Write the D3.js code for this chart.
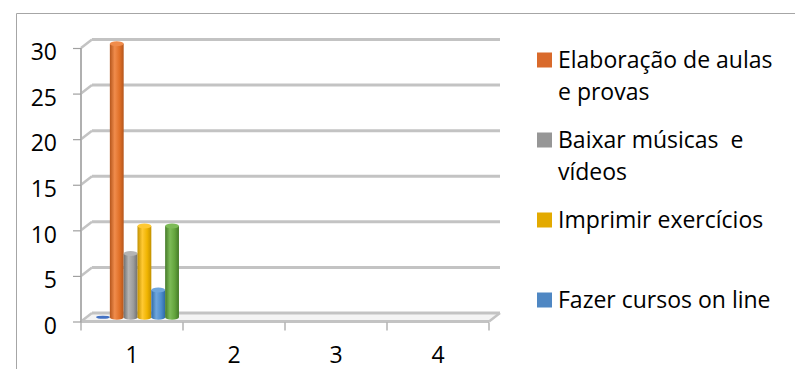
<!DOCTYPE html>
<html>
<head>
<meta charset="utf-8">
<script src="https://cdn.jsdelivr.net/npm/d3@7"></script>
<style>
  html, body { margin: 0; padding: 0; background: #fff; }
  svg { display: block; }
  text { font-family: "Open Sans", "Noto Sans", sans-serif; fill: #000; }
</style>
</head>
<body>
<svg id="chart" width="795" height="369"></svg>
<script>
// ---- data ----
const categories = ["1", "2", "3", "4"];
const seriesKeys = ["s1", "s2", "s3", "s4", "s5", "s6"];
const s1Values = [0, null, null, null];
const s2Values = [30, null, null, null];
const s3Values = [7, null, null, null];
const s4Values = [10, null, null, null];
const s5Values = [3, null, null, null];
const s6Values = [10, null, null, null];
const yTickValues = [0, 5, 10, 15, 20, 25, 30];
const legendLabels = [["Elaboração de aulas", "e provas"], ["Baixar músicas  e", "vídeos"], ["Imprimir exercícios"], ["Fazer cursos on line"]];
const legendKeys = ["s2", "s3", "s4", "s5"];

// ---- styles ----
const colors = {
  s1: ["#2f5597", "#4472c4", "#5b86d0"],
  s2: ["#b5561c", "#e07028", "#f08c4c"],
  s3: ["#707070", "#9c9c9c", "#b4b4b4"],
  s4: ["#c29100", "#f0b400", "#ffc933"],
  s5: ["#2e6aa6", "#4f8fcf", "#6fa6dc"],
  s6: ["#457a28", "#63a43c", "#7dbb57"]
};
const swatch = { s2: "#d96a2b", s3: "#969696", s4: "#e3aa00", s5: "#4f87c3" };

const values = { s1: s1Values, s2: s2Values, s3: s3Values, s4: s4Values, s5: s5Values, s6: s6Values };

const svg = d3.select("#chart");
const gridColor = "#c3c3c3";
const DX = 11, DY = -8.5;

const y = d3.scaleLinear().domain([0, 30]).range([321.5, 48]);
const x = d3.scaleBand().domain(categories).range([81, 489]).padding(0);
const xs = d3.scaleBand().domain(seriesKeys).range([0, x.bandwidth()]).paddingInner(0).paddingOuter(0.69);

// frame
svg.append("line").attr("x1", 16.5).attr("x2", 795).attr("y1", 13.5).attr("y2", 13.5).attr("stroke", "#a6a6a6").attr("stroke-width", 1);
svg.append("line").attr("x1", 16.5).attr("x2", 16.5).attr("y1", 13.5).attr("y2", 369).attr("stroke", "#a6a6a6").attr("stroke-width", 1);

// floor plate
const x0 = x.range()[0], x1 = x.range()[1];
svg.append("path")
  .attr("d", `M${x0},${y(0)} L${x1},${y(0)} L${x1 + DX},${y(0) + DY} L${x0 + DX},${y(0) + DY} Z`)
  .attr("fill", "#f4f4f4");

// gridlines (back wall) and left-wall diagonals
const grid = svg.append("g");
yTickValues.forEach(v => {
  grid.append("line")
    .attr("x1", x0 + DX).attr("x2", x1 + DX)
    .attr("y1", y(v) + DY).attr("y2", y(v) + DY)
    .attr("stroke", gridColor).attr("stroke-width", 3);
  grid.append("line")
    .attr("x1", x0).attr("x2", x0 + DX)
    .attr("y1", y(v)).attr("y2", y(v) + DY)
    .attr("stroke", gridColor).attr("stroke-width", 2.5);
});
// floor front edge and right edge
svg.append("line").attr("x1", x0).attr("x2", x1).attr("y1", y(0)).attr("y2", y(0)).attr("stroke", gridColor).attr("stroke-width", 3);
svg.append("line").attr("x1", x1).attr("x2", x1 + DX).attr("y1", y(0)).attr("y2", y(0) + DY).attr("stroke", gridColor).attr("stroke-width", 2.5);
// y axis line
svg.append("line").attr("x1", x0).attr("x2", x0).attr("y1", y(30)).attr("y2", y(0) + 1).attr("stroke", "#b0b0b0").attr("stroke-width", 2);

// y axis ticks + labels
const yAxis = svg.append("g").attr("transform", `translate(${x0},0)`)
  .call(d3.axisLeft(y).tickValues(yTickValues).tickSize(8).tickPadding(16).tickFormat(d3.format("d")));
yAxis.select(".domain").remove();
yAxis.selectAll(".tick line").attr("stroke", "#a0a0a0").attr("stroke-width", 1.2);
yAxis.selectAll(".tick text").attr("dy", "0.38em").attr("y", 3).style("font-size", "23px").style("font-family", "'Open Sans', sans-serif");

// x axis labels
const xAxis = svg.append("g").attr("transform", `translate(0,${y(0)})`)
  .call(d3.axisBottom(x).tickSize(0).tickPadding(25));
xAxis.select(".domain").remove();
xAxis.selectAll(".tick text").style("font-size", "23px").style("font-family", "'Open Sans', sans-serif");
// x boundary ticks
const bounds = categories.map(c => x(c)).concat([x1]);
svg.append("g").selectAll("line").data(bounds).join("line")
  .attr("x1", d => d).attr("x2", d => d)
  .attr("y1", y(0) + 1).attr("y2", y(0) + 9)
  .attr("stroke", "#a0a0a0").attr("stroke-width", 1.2);

// gradients
const defs = svg.append("defs");
seriesKeys.forEach(k => {
  const g = defs.append("linearGradient").attr("id", "g_" + k).attr("x1", 0).attr("x2", 1).attr("y1", 0).attr("y2", 0);
  g.append("stop").attr("offset", "0%").attr("stop-color", colors[k][0]);
  g.append("stop").attr("offset", "35%").attr("stop-color", colors[k][2]);
  g.append("stop").attr("offset", "70%").attr("stop-color", colors[k][1]);
  g.append("stop").attr("offset", "100%").attr("stop-color", colors[k][0]);
});

// bars (cylinders)
const bars = svg.append("g");
const ry = 2.5;
categories.forEach((c, ci) => {
  seriesKeys.forEach(k => {
    const v = values[k][ci];
    if (v === null || v === undefined) return;
    const bx = x(c) + xs(k) + DX / 2;
    const w = xs.bandwidth();
    const yb = y(0) + DY / 2;
    const yt = y(v) + DY / 2;
    const g = bars.append("g");
    if (v > 0) {
      g.append("path")
        .attr("d", `M${bx},${yt} L${bx},${yb} A${w / 2},${ry} 0 0 0 ${bx + w},${yb} L${bx + w},${yt} Z`)
        .attr("fill", `url(#g_${k})`);
    }
    g.append("ellipse")
      .attr("cx", bx + w / 2).attr("cy", yt)
      .attr("rx", w / 2).attr("ry", v > 0 ? ry : 1.6)
      .attr("fill", colors[k][v > 0 ? 2 : 1]);
  });
});

// legend
const legend = svg.append("g");
const legendY = [60, 140, 220, 300];
legendKeys.forEach((k, i) => {
  legend.append("rect")
    .attr("x", 537).attr("y", legendY[i] - 7.5)
    .attr("width", 15).attr("height", 15)
    .attr("fill", swatch[k]);
  legendLabels[i].forEach((line, li) => {
    legend.append("text")
      .attr("x", 558).attr("y", legendY[i] + li * 32)
      .attr("dy", "0.36em")
      .style("font-size", "23px")
      .style("white-space", "pre")
      .attr("xml:space", "preserve")
      .text(line);
  });
});
</script>
</body>
</html>
